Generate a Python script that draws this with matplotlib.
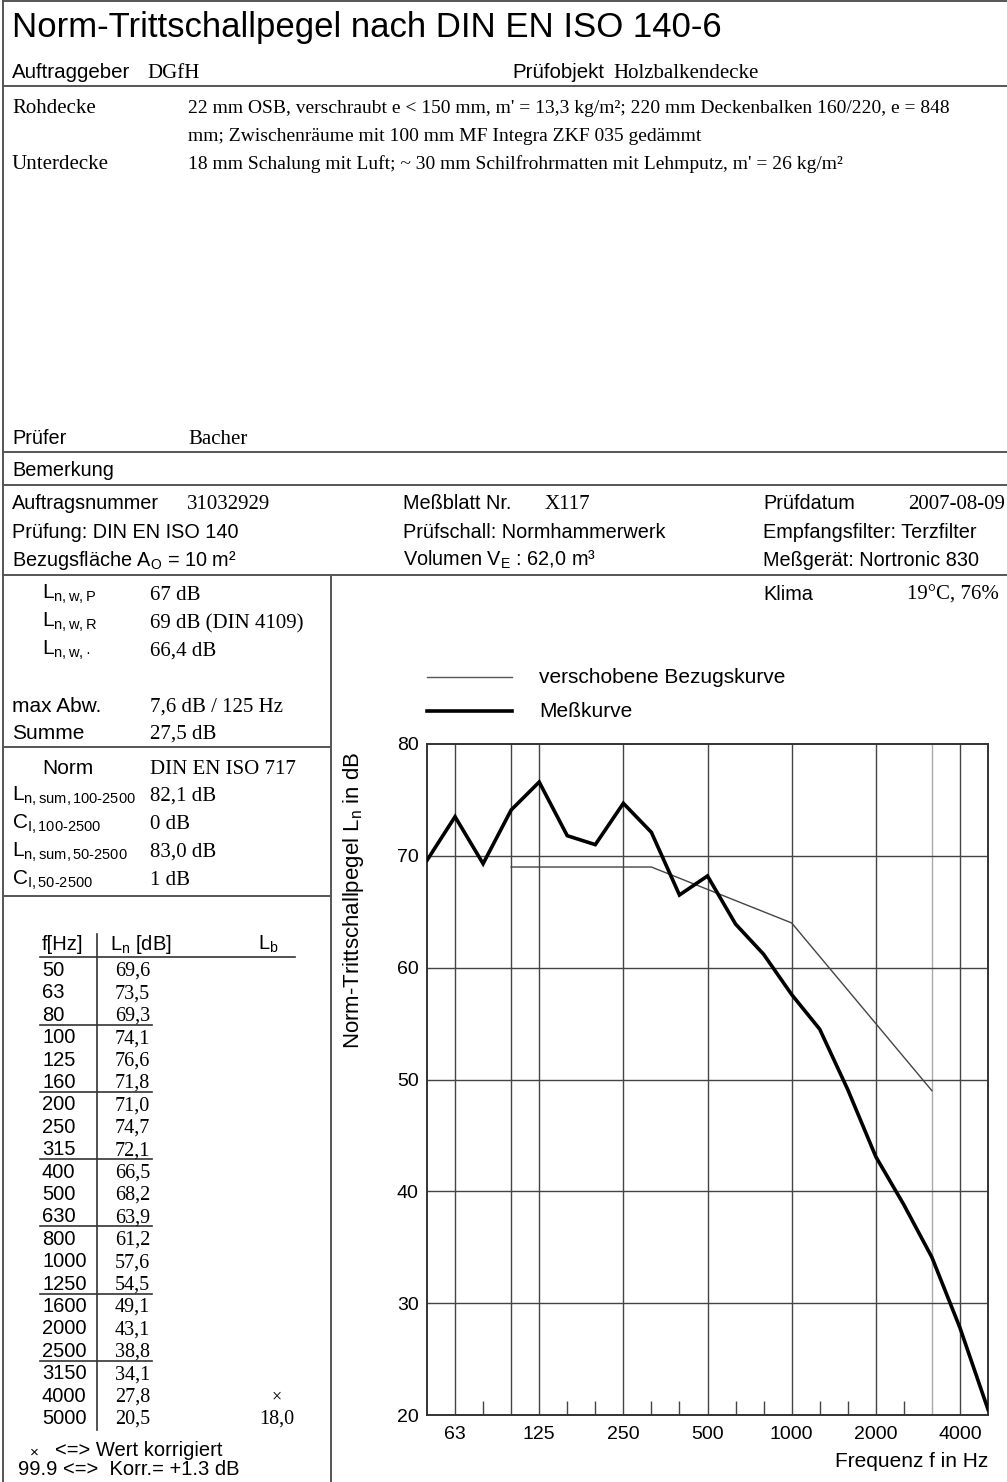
import matplotlib
matplotlib.use("Agg")
import matplotlib.pyplot as plt
from matplotlib.lines import Line2D

# measurement data (third-octave bands)
freq_labels = ["50", "63", "80", "100", "125", "160", "200", "250", "315", "400",
               "500", "630", "800", "1000", "1250", "1600", "2000", "2500",
               "3150", "4000", "5000"]
ln_values = [69.6, 73.5, 69.3, 74.1, 76.6, 71.8, 71.0, 74.7, 72.1, 66.5,
             68.2, 63.9, 61.2, 57.6, 54.5, 49.1, 43.1, 38.8, 34.1, 27.8, 20.5]
# shifted reference curve, 100 .. 3150 Hz
ref_start = 3
ref_values = [69, 69, 69, 69, 69, 69, 68, 67, 66, 65, 64, 61, 58, 55, 52, 49]
lb_marks = {19: "×", 20: "18,0"}

xtick_labels = ["63", "125", "250", "500", "1000", "2000", "4000"]
yticks = [20, 30, 40, 50, 60, 70, 80]

W, H = 1007, 1482
SANS = "Liberation Sans"
SERIF = "Liberation Serif"
plt.rcParams["font.family"] = SANS
plt.rcParams["mathtext.fontset"] = "custom"
plt.rcParams["mathtext.rm"] = SANS
plt.rcParams["mathtext.it"] = SANS

fig = plt.figure(figsize=(W / 100, H / 100), dpi=100)


def fx(x):
    return x / W


def fy(y):
    return 1 - y / H


def txt(x, y, s, size=14, serif=False, ha="left", **kw):
    # y is the visual middle of the row -> common baseline
    fig.text(fx(x), fy(y + 7), s, fontsize=size,
             family=SERIF if serif else SANS, ha=ha, va="baseline", **kw)


def hline(y, x0=3, x1=W, color="#555555", lw=1.4):
    fig.add_artist(Line2D([fx(x0), fx(x1)], [fy(y), fy(y)], color=color, lw=lw))


def vline(x, y0, y1, color="#555555", lw=1.4):
    fig.add_artist(Line2D([fx(x), fx(x)], [fy(y0), fy(y1)], color=color, lw=lw))


# frame
hline(1)
vline(3, 0, H)
hline(86)
hline(452)
hline(485)
hline(575)
vline(331, 575, H)
hline(747, 3, 331)
hline(896, 3, 331)

# header
txt(12, 30, "Norm-Trittschallpegel nach DIN EN ISO 140-6", 25)
txt(12, 71, "Auftraggeber", 14.8)
txt(147, 71, "DGfH", 15, serif=True)
txt(512, 71, "Prüfobjekt", 14.8)
txt(613, 71, "Holzbalkendecke", 15, serif=True)
txt(12, 106, "Rohdecke", 15, serif=True)
txt(188, 106, "22 mm OSB, verschraubt e < 150 mm, m' = 13,3 kg/m²; 220 mm Deckenbalken 160/220, e = 848",
    14, serif=True)
txt(188, 134, "mm; Zwischenräume mit 100 mm MF Integra ZKF 035 gedämmt", 14, serif=True)
txt(12, 162, "Unterdecke", 15, serif=True)
txt(188, 162, "18 mm Schalung mit Luft; ~ 30 mm Schilfrohrmatten mit Lehmputz, m' = 26 kg/m²",
    14, serif=True)
txt(12, 437, "Prüfer", 14.3)
txt(188, 437, "Bacher", 15, serif=True)
txt(12, 469, "Bemerkung", 14.3)

txt(12, 502, "Auftragsnummer", 14.3)
txt(187, 502, "31032929", 15, serif=True)
txt(12, 531, "Prüfung: DIN EN ISO 140", 14.3)
txt(12, 559, r"Bezugsfläche A$_\mathregular{O}$ = 10 m²", 14.3)
txt(403, 502, "Meßblatt Nr.", 14.3)
txt(545, 502, "X117", 15, serif=True)
txt(403, 531, "Prüfschall: Normhammerwerk", 14.3)
txt(403, 559, r"Volumen V$_\mathregular{E}$ : 62,0 m³", 14.3)
txt(763, 502, "Prüfdatum", 14.3)
txt(1005, 502, "2007-08-09", 15, serif=True, ha="right")
txt(763, 531, "Empfangsfilter: Terzfilter", 14.3)
txt(763, 559, "Meßgerät: Nortronic 830", 14.3)
txt(763, 593, "Klima", 14.3)
txt(999, 593, "19°C, 76%", 15, serif=True, ha="right")

# left panel: single number ratings
txt(42, 592, r"L$_\mathregular{n,w,P}$", 15)
txt(150, 593, "67 dB", 15, serif=True)
txt(42, 620, r"L$_\mathregular{n,w,R}$", 15)
txt(150, 621, "69 dB (DIN 4109)", 15, serif=True)
txt(42, 648, r"L$_\mathregular{n,w,·}$", 15)
txt(150, 649, "66,4 dB", 15, serif=True)
txt(12, 705, "max Abw.", 15)
txt(150, 705, "7,6 dB / 125 Hz", 15, serif=True)
txt(12, 732, "Summe", 15)
txt(150, 732, "27,5 dB", 15, serif=True)
txt(42, 767, "Norm", 15)
txt(150, 767, "DIN EN ISO 717", 15, serif=True)
txt(12, 794, r"L$_\mathregular{n,sum,100\text{-}2500}$", 15)
txt(150, 794, "82,1 dB", 15, serif=True)
txt(12, 822, r"C$_\mathregular{I,100\text{-}2500}$", 15)
txt(150, 822, "0 dB", 15, serif=True)
txt(12, 850, r"L$_\mathregular{n,sum,50\text{-}2500}$", 15)
txt(150, 850, "83,0 dB", 15, serif=True)
txt(12, 878, r"C$_\mathregular{I,50\text{-}2500}$", 15)
txt(150, 878, "1 dB", 15, serif=True)

# left panel: value table
row0, step = 969, 22.4
txt(42, 943, "f[Hz]", 14.5)
txt(110, 943, r"L$_\mathregular{n}$ [dB]", 14.5)
txt(258, 943, r"L$_\mathregular{b}$", 14.5)
hline(957, 40, 295, color="#333333", lw=1.2)
vline(97, 934, 1430, color="#333333", lw=1.2)
for i, (f, v) in enumerate(zip(freq_labels, ln_values)):
    y = row0 + i * step
    txt(42, y, f, 14.5)
    txt(115, y, f"{v:.1f}".replace(".", ","), 14.5, serif=True)
    if i % 3 == 2 and i < 18:
        hline(y + 11, 40, 152, color="#333333", lw=1.2)
for i, s in lb_marks.items():
    if s == "×":
        txt(277, row0 + i * step, s, 13, serif=True, ha="center")
    else:
        txt(277, row0 + i * step, s, 14.5, serif=True, ha="center")
txt(30, 1450, "×", 11)
txt(55, 1449, "<=> Wert korrigiert", 14.5)
txt(18, 1468, "99.9 <=>  Korr.= +1.3 dB", 14.5)

# legend
fig.add_artist(Line2D([fx(427), fx(512)], [fy(677), fy(677)], color="#555555", lw=1.0))
fig.add_artist(Line2D([fx(427), fx(512)], [fy(711), fy(711)], color="black", lw=2.6))
txt(539, 676, "verschobene Bezugskurve", 15)
txt(539, 710, "Meßkurve", 15)

# chart
ax = fig.add_axes([fx(427), fy(1415), fx(988) - fx(427), (1415 - 744) / H])
idx = list(range(len(freq_labels)))
ax.set_xlim(0, len(freq_labels) - 1)
ax.set_ylim(20, 80)
grid_idx = [1, 3, 4, 7, 10, 13, 16, 19]
for g in grid_idx:
    ax.axvline(g, color="#444444", lw=1.0, zorder=1)
ax.axvline(18, color="#aaaaaa", lw=1.0, zorder=1)
for yv in yticks[1:-1]:
    ax.axhline(yv, color="#444444", lw=1.0, zorder=1)

ax.plot(idx[ref_start:ref_start + len(ref_values)], ref_values, color="#444444", lw=1.0, zorder=2)
ax.plot(idx, ln_values, color="black", lw=2.6, zorder=3, solid_joinstyle="miter")

label_idx = [freq_labels.index(s) for s in xtick_labels]
ax.set_xticks(label_idx)
ax.set_xticklabels(xtick_labels, fontsize=14)
minor_idx = [i for i in idx if i not in grid_idx and i not in (0, 18, 20)]
ax.set_xticks(minor_idx, minor=True)
ax.tick_params(axis="x", which="major", length=0, pad=8)
ax.tick_params(axis="x", which="minor", direction="in", length=10, width=1.0, color="#444444")
ax.set_yticks(yticks)
ax.set_yticklabels([str(v) for v in yticks], fontsize=14)
ax.tick_params(axis="y", length=0, pad=6)
for sp in ax.spines.values():
    sp.set_color("#333333")
    sp.set_linewidth(1.4)
ax.set_ylabel(r"Norm-Trittschallpegel L$_\mathregular{n}$ in dB", fontsize=16)
ax.yaxis.set_label_coords(-0.108, 0.767)
txt(988, 1460, "Frequenz f in Hz", 15, ha="right")

fig.savefig("out.png", dpi=100)
